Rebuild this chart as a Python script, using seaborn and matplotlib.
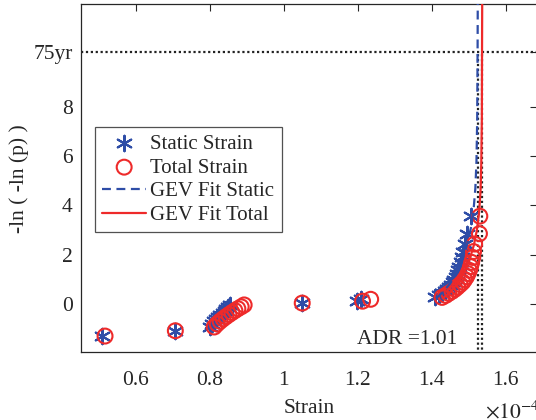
import numpy as np
import pandas as pd
import matplotlib
matplotlib.use("Agg")
import matplotlib.pyplot as plt
import seaborn as sns

# ---- data (strain in units of 1e-4) ----
reduced_variate = [-1.276, -1.061, -0.910, -0.787, -0.680, -0.583, -0.493, -0.408,
                   -0.327, -0.248, -0.170, -0.094, -0.018, 0.057, 0.133, 0.210,
                   0.287, 0.367, 0.448, 0.531, 0.618, 0.708, 0.803, 0.903,
                   1.009, 1.123, 1.246, 1.381, 1.531, 1.702, 1.900, 2.139,
                   2.442, 2.862, 3.569]
static_strain = [0.508, 0.706, 0.800, 0.806, 0.812, 0.818, 0.823, 0.829,
                 0.835, 0.840, 0.845, 0.850, 0.855, 1.049, 1.197, 1.210,
                 1.410, 1.420, 1.428, 1.435, 1.441, 1.447, 1.452, 1.457,
                 1.461, 1.465, 1.468, 1.471, 1.474, 1.478, 1.482, 1.485,
                 1.489, 1.496, 1.507]
total_strain = [0.517, 0.707, 0.812, 0.820, 0.828, 0.836, 0.844, 0.852,
                0.860, 0.868, 0.876, 0.885, 0.893, 1.050, 1.213, 1.235,
                1.428, 1.438, 1.446, 1.455, 1.463, 1.470, 1.477, 1.484,
                1.489, 1.494, 1.498, 1.502, 1.505, 1.508, 1.511, 1.513,
                1.516, 1.529, 1.530]
gev_static_x = [1.412, 1.430, 1.450, 1.470, 1.485, 1.497, 1.506, 1.513, 1.518, 1.521, 1.523, 1.524, 1.5245]
gev_static_y = [0.25, 0.50, 0.85, 1.35, 1.90, 2.50, 3.10, 3.80, 4.70, 5.80, 7.50, 10.21, 12.3]
gev_total_x = [1.430, 1.450, 1.470, 1.488, 1.502, 1.514, 1.522, 1.528, 1.532, 1.534, 1.5355, 1.536, 1.5365]
gev_total_y = [0.25, 0.50, 0.85, 1.30, 1.80, 2.40, 3.00, 3.70, 4.60, 5.70, 7.50, 10.21, 12.3]
level_75yr = 10.21
adr_text = "ADR =1.01"
y_ticks = [0, 2, 4, 6, 8, level_75yr]
y_ticklabels = ["0", "2", "4", "6", "8", "75yr"]
x_ticks = [0.6, 0.8, 1.0, 1.2, 1.4, 1.6]
x_ticklabels = ["0.6", "0.8", "1", "1.2", "1.4", "1.6"]

blue = "#2E4DA7"
red = "#EE2A2A"
ink = "#262626"

sns.set_theme(style="white")
plt.rcParams["font.family"] = ["Liberation Serif", "DejaVu Serif"]
plt.rcParams["mathtext.fontset"] = "stix"

fig = plt.figure(figsize=(5.36, 4.20), dpi=100)
ax = fig.add_axes([81 / 536, 1 - 352 / 420, (537 - 81) / 536, (352 - 4.3) / 420])

df_s = pd.DataFrame({"x": static_strain, "y": reduced_variate})
df_t = pd.DataFrame({"x": total_strain, "y": reduced_variate})
df_gs = pd.DataFrame({"x": gev_static_x, "y": gev_static_y})
df_gt = pd.DataFrame({"x": gev_total_x, "y": gev_total_y})

# reference dotted lines
dot = (0, (1, 1.2))
ax.axhline(level_75yr, color="#222222", ls=dot, lw=1.6, zorder=1)
ax.plot([gev_static_x[-2], gev_static_x[-2]], [-3, level_75yr], color="#222222", ls=dot, lw=1.6, zorder=1)
ax.plot([gev_total_x[-2], gev_total_x[-2]], [-3, level_75yr], color="#222222", ls=dot, lw=1.6, zorder=1)

sns.scatterplot(data=df_s, x="x", y="y", ax=ax, marker=(6, 2, 0), s=125,
                color=blue, edgecolor=blue, linewidth=1.5, label="Static Strain", zorder=3)
sns.scatterplot(data=df_t, x="x", y="y", ax=ax, marker="o", s=115,
                facecolor="none", edgecolor=red, linewidth=1.5, label="Total Strain", zorder=4)
sns.lineplot(data=df_gs, x="x", y="y", ax=ax, color=blue, lw=1.6, ls=(0, (4, 2.5)),
             sort=False, estimator=None, label="GEV Fit Static", zorder=5)
sns.lineplot(data=df_gt, x="x", y="y", ax=ax, color=red, lw=1.6, ls="-",
             sort=False, estimator=None, label="GEV Fit Total", zorder=6)

ax.set_xlim(0.452, 1.6846)
ax.set_ylim(-1.92, 12.13)
ax.set_xticks(x_ticks)
ax.set_xticklabels(x_ticklabels)
ax.set_yticks(y_ticks)
ax.set_yticklabels(y_ticklabels)
ax.tick_params(axis="both", direction="in", length=5, width=0.8, color=ink,
               labelsize=15.5, labelcolor=ink, top=True, right=True)
ax.tick_params(axis="x", pad=14)
ax.tick_params(axis="y", pad=6)
for sp in ax.spines.values():
    sp.set_color(ink)
    sp.set_linewidth(0.9)

ax.set_xlabel("Strain", fontsize=15.5, color=ink, labelpad=6)
ax.set_ylabel("-ln ( -ln (p) )", fontsize=15.5, color=ink, labelpad=3)
ax.text(1.198, -1.43, adr_text, fontsize=15.5, color=ink, va="center", ha="left")
fig.text(485 / 536, 1 - 412 / 420, r"$\times 10^{-4}$", fontsize=15.5, color=ink, va="center", ha="left")

leg = ax.legend(loc="upper left", bbox_to_anchor=((95 - 81) / 456, 1 - (127 - 4.3) / 347.7),
                frameon=True, fancybox=False, fontsize=15, handlelength=2.1,
                handletextpad=0.2, borderpad=0.35, labelspacing=0.2, borderaxespad=0)
leg.get_frame().set_edgecolor(ink)
leg.get_frame().set_linewidth(0.9)
for t in leg.get_texts():
    t.set_color(ink)

fig.savefig("out.png", dpi=100)
